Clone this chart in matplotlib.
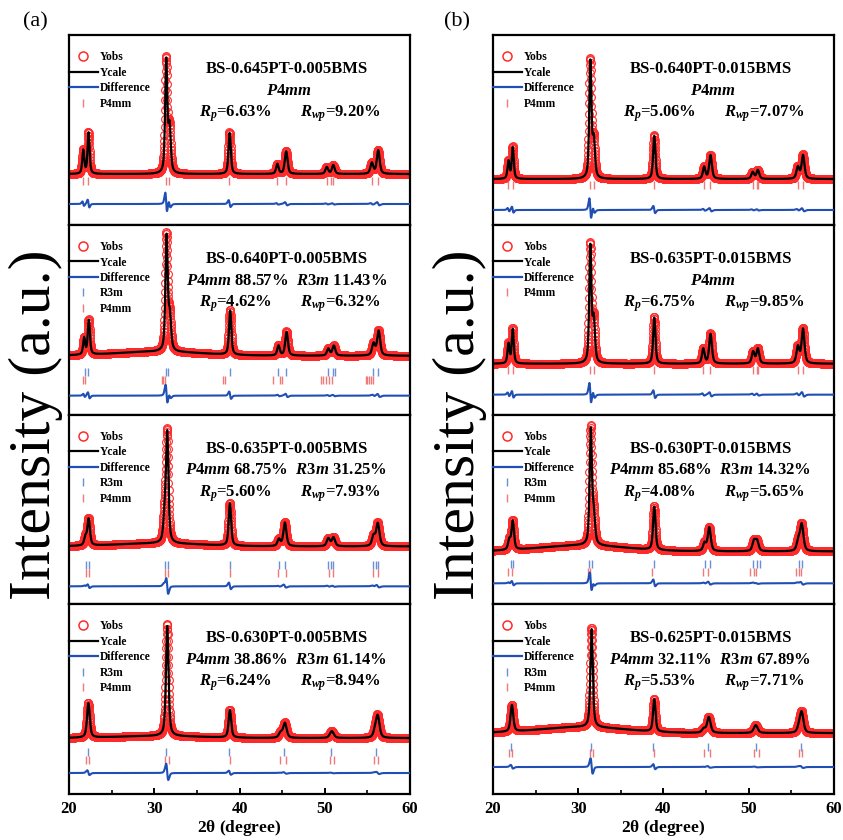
import numpy as np
import matplotlib
matplotlib.use('Agg')
import matplotlib.pyplot as plt
from matplotlib.lines import Line2D

plt.rcParams['font.family'] = ['Liberation Serif', 'DejaVu Serif']
plt.rcParams['mathtext.fontset'] = 'custom'
plt.rcParams['mathtext.rm'] = 'Liberation Serif:bold'
plt.rcParams['mathtext.it'] = 'Liberation Serif:bold:italic'
plt.rcParams['mathtext.bf'] = 'Liberation Serif:bold'

# ---------------- data ----------------
two_theta = np.arange(20.0, 60.0001, 0.02)

# column (a)
a1_name = "BS-0.645PT-0.005BMS"; a1_phase = None; a1_rp = "6.63"; a1_rwp = "9.20"
a1_bg = 51; a1_hump = 0
a1_pos = [21.65, 22.27, 31.38, 31.77, 38.82, 44.42, 45.45, 50.22, 50.98, 55.50, 56.25]
a1_h   = [24, 42, 114, 46, 42, 10, 23, 7, 9, 11, 24]
a1_w   = [0.28, 0.28, 0.30, 0.34, 0.32, 0.35, 0.38, 0.38, 0.38, 0.40, 0.40]
a1_r3m = []
a1_p4mm = [21.65, 22.27, 31.38, 31.77, 38.82, 44.42, 45.45, 50.22, 50.75, 50.98, 55.50, 56.25]

a2_name = "BS-0.640PT-0.005BMS"; a2_phase = ("88.57", "11.43"); a2_rp = "4.62"; a2_rwp = "6.32"
a2_bg = 59; a2_hump = 4
a2_pos = [21.75, 22.30, 31.42, 31.80, 38.88, 44.55, 45.50, 50.40, 51.05, 55.70, 56.30]
a2_h   = [17, 35, 116, 34, 45, 10, 24, 7, 10, 12, 25]
a2_w   = [0.28, 0.30, 0.32, 0.36, 0.32, 0.35, 0.38, 0.38, 0.40, 0.42, 0.42]
a2_r3m = [21.90, 22.26, 31.38, 31.65, 38.90, 44.55, 45.45, 50.40, 51.00, 51.20, 55.70, 56.25]
a2_p4mm = [21.60, 21.90, 30.90, 31.00, 31.20, 38.10, 38.30, 43.90, 44.75, 44.95,
           49.50, 49.80, 50.20, 50.50, 50.80, 54.80, 55.00, 55.20, 55.40, 55.60]

a3_name = "BS-0.635PT-0.005BMS"; a3_phase = ("68.75", "31.25"); a3_rp = "5.60"; a3_rwp = "7.93"
a3_bg = 58; a3_hump = 3
a3_pos = [21.90, 22.28, 31.20, 31.50, 38.85, 44.60, 45.30, 50.40, 51.00, 55.70, 56.20]
a3_h   = [8, 27, 25, 110, 43, 7, 24, 8, 9, 10, 23]
a3_w   = [0.34, 0.36, 0.36, 0.34, 0.34, 0.40, 0.42, 0.44, 0.44, 0.44, 0.46]
a3_r3m = [21.95, 22.30, 31.25, 31.55, 38.85, 44.60, 45.30, 50.35, 50.70, 51.00, 55.65, 55.95, 56.30]
a3_p4mm = [22.00, 22.30, 31.20, 31.60, 38.90, 44.50, 45.40, 50.50, 51.00, 55.70, 56.30]

a4_name = "BS-0.630PT-0.005BMS"; a4_phase = ("38.86", "61.14"); a4_rp = "6.24"; a4_rwp = "8.94"
a4_bg = 56; a4_hump = 2
a4_pos = [22.25, 31.50, 38.85, 44.80, 45.30, 50.80, 55.90, 56.20]
a4_h   = [35, 112, 28, 5, 15, 7, 7, 21]
a4_w   = [0.38, 0.36, 0.36, 0.48, 0.48, 0.54, 0.48, 0.48]
a4_r3m = [22.20, 31.40, 38.80, 45.20, 50.70, 56.00]
a4_p4mm = [22.00, 22.30, 31.30, 31.70, 38.90, 44.80, 45.40, 50.60, 51.10, 55.80, 56.30]

# column (b)
b1_name = "BS-0.640PT-0.015BMS"; b1_phase = None; b1_rp = "5.06"; b1_rwp = "7.07"
b1_bg = 46; b1_hump = 0
b1_pos = [21.80, 22.30, 31.40, 31.80, 38.90, 44.75, 45.50, 50.45, 51.05, 55.75, 56.35]
b1_h   = [18, 32, 118, 38, 44, 12, 24, 7, 9, 12, 24]
b1_w   = [0.28, 0.28, 0.30, 0.34, 0.32, 0.35, 0.38, 0.38, 0.38, 0.40, 0.40]
b1_r3m = []
b1_p4mm = [21.80, 22.30, 31.40, 31.80, 38.90, 44.75, 45.50, 50.45, 50.95, 51.10, 55.75, 56.35]

b2_name = "BS-0.635PT-0.015BMS"; b2_phase = None; b2_rp = "6.75"; b2_rwp = "9.85"
b2_bg = 51; b2_hump = 0
b2_pos = [21.80, 22.30, 31.40, 31.80, 38.90, 44.65, 45.50, 50.50, 51.05, 55.75, 56.35]
b2_h   = [20, 35, 118, 43, 47, 15, 30, 12, 15, 17, 35]
b2_w   = [0.28, 0.28, 0.30, 0.34, 0.32, 0.35, 0.38, 0.38, 0.38, 0.40, 0.40]
b2_r3m = []
b2_p4mm = [21.80, 22.30, 31.40, 31.80, 38.90, 44.65, 45.50, 50.50, 50.95, 51.10, 55.75, 56.35]

b3_name = "BS-0.630PT-0.015BMS"; b3_phase = ("85.68", "14.32"); b3_rp = "4.08"; b3_rwp = "5.65"
b3_bg = 53; b3_hump = 6
b3_pos = [21.90, 22.30, 31.45, 31.80, 38.90, 44.80, 45.35, 50.60, 50.95, 55.80, 56.20]
b3_h   = [10, 29, 116, 29, 44, 8, 24, 10, 10, 10, 27]
b3_w   = [0.34, 0.34, 0.32, 0.36, 0.34, 0.40, 0.42, 0.44, 0.44, 0.44, 0.46]
b3_r3m = [22.10, 22.40, 31.30, 31.60, 38.90, 44.90, 45.50, 50.50, 51.00, 51.30, 55.90, 56.30]
b3_p4mm = [21.80, 22.20, 31.20, 31.40, 38.70, 44.60, 45.20, 50.20, 50.60, 50.80, 55.60, 55.90, 56.10]

b4_name = "BS-0.625PT-0.015BMS"; b4_phase = ("32.11", "67.89"); b4_rp = "5.53"; b4_rwp = "7.71"
b4_bg = 61; b4_hump = 6
b4_pos = [22.20, 31.55, 38.90, 44.70, 45.30, 50.80, 55.90, 56.20]
b4_h   = [27, 100, 33, 4, 16, 8, 6, 20]
b4_w   = [0.38, 0.34, 0.34, 0.48, 0.48, 0.54, 0.48, 0.48]
b4_r3m = [22.10, 31.50, 38.80, 45.20, 50.80, 56.10]
b4_p4mm = [21.90, 22.20, 31.40, 31.70, 38.90, 44.70, 45.50, 50.60, 51.20, 55.90, 56.30]

calc_ratio = 0.985
calc_shift = 0.02

x_ticks = [20, 30, 40, 50, 60]

# ---------------- styles / layout ----------------
RED = '#ff2b2b'
BLUE = '#1f4fb5'
R3M_C = '#6b8fd6'
P4MM_C = '#f07a7a'

panels_a = [
    (a1_name, a1_phase, a1_rp, a1_rwp, a1_bg, a1_hump, a1_pos, a1_h, a1_w, a1_r3m, a1_p4mm),
    (a2_name, a2_phase, a2_rp, a2_rwp, a2_bg, a2_hump, a2_pos, a2_h, a2_w, a2_r3m, a2_p4mm),
    (a3_name, a3_phase, a3_rp, a3_rwp, a3_bg, a3_hump, a3_pos, a3_h, a3_w, a3_r3m, a3_p4mm),
    (a4_name, a4_phase, a4_rp, a4_rwp, a4_bg, a4_hump, a4_pos, a4_h, a4_w, a4_r3m, a4_p4mm),
]
panels_b = [
    (b1_name, b1_phase, b1_rp, b1_rwp, b1_bg, b1_hump, b1_pos, b1_h, b1_w, b1_r3m, b1_p4mm),
    (b2_name, b2_phase, b2_rp, b2_rwp, b2_bg, b2_hump, b2_pos, b2_h, b2_w, b2_r3m, b2_p4mm),
    (b3_name, b3_phase, b3_rp, b3_rwp, b3_bg, b3_hump, b3_pos, b3_h, b3_w, b3_r3m, b3_p4mm),
    (b4_name, b4_phase, b4_rp, b4_rwp, b4_bg, b4_hump, b4_pos, b4_h, b4_w, b4_r3m, b4_p4mm),
]
# rows (from panel bottom) for reflection ticks and difference curve
rows_a = [(None, 44, 21), (43, 35, 19), (39, 31, 18), (42, 34, 21)]
rows_b = [(None, 40, 15), (None, 45, 20), (40, 32, 21), (47, 41, 27)]


def pv(x, x0, h, w, eta=0.55):
    d = (x - x0) / w
    return h * (eta / (1 + 4 * d * d) + (1 - eta) * np.exp(-4 * np.log(2) * d * d))


fig = plt.figure(figsize=(8.43, 8.40), dpi=100)
left_x = [0.0819, 0.5848]
ax_w = 0.4045
bottom = 0.0548
ax_h = (0.958 - 0.0548) / 4

for col, (panels, rows) in enumerate([(panels_a, rows_a), (panels_b, rows_b)]):
    for i, (p, r) in enumerate(zip(panels, rows)):
        name, phase, rp, rwp, bg, hump, pos, hh, ww, r3m, p4mm = p
        r_row, p_row, d_row = r
        ax = fig.add_axes([left_x[col], bottom + (3 - i) * ax_h, ax_w, ax_h])
        x = two_theta
        yobs = bg + pv(x, 30.5, hump, 12.0, eta=0.0)
        ycal = bg + pv(x, 30.5, hump, 12.0, eta=0.0)
        for x0, h0, w0 in zip(pos, hh, ww):
            yobs = yobs + pv(x, x0, h0, w0)
            ycal = ycal + pv(x, x0 + calc_shift, h0 * calc_ratio, w0)
        ax.plot(x, yobs, 'o', mfc='none', mec=RED, ms=5.6, mew=0.8, zorder=2)
        ax.plot(x, ycal, '-', color='k', lw=1.6, zorder=3)
        ax.plot(x, yobs - ycal + d_row, '-', color=BLUE, lw=1.5, zorder=3)
        if r3m:
            ax.plot(r3m, [r_row] * len(r3m), '|', color=R3M_C, ms=5.5, mew=1.0)
        ax.plot(p4mm, [p_row] * len(p4mm), '|', color=P4MM_C, ms=5.5, mew=1.0)

        ax.set_xlim(20, 60)
        ax.set_ylim(0, 190)
        ax.set_yticks([])
        for s in ax.spines.values():
            s.set_linewidth(1.6)

        handles = [Line2D([], [], marker='o', ls='none', mfc='none', mec=RED, ms=6.5, mew=1.1),
                   Line2D([], [], color='k', lw=1.6),
                   Line2D([], [], color=BLUE, lw=1.6)]
        labels = ['Yobs', 'Ycale', 'Difference']
        if r3m:
            handles.append(Line2D([], [], marker='|', ls='none', color=R3M_C, ms=5.5, mew=1.0))
            labels.append('R3m')
        handles.append(Line2D([], [], marker='|', ls='none', color=P4MM_C, ms=5.5, mew=1.0))
        labels.append('P4mm')
        ax.legend(handles, labels, loc='upper left', bbox_to_anchor=(0.0, 0.915),
                  frameon=False, prop={'weight': 'bold', 'size': 8.3},
                  handlelength=2.5, handletextpad=0.2, labelspacing=0.3,
                  borderpad=0, borderaxespad=0)

        ax.text(0.64, 0.80, name, transform=ax.transAxes, ha='center', va='baseline',
                fontsize=12, fontweight='bold')
        if phase is None:
            ax.text(0.645, 0.685, r"$\mathit{P4mm}$", transform=ax.transAxes,
                    ha='center', va='baseline', fontsize=12, fontweight='bold')
        else:
            ax.text(0.637, 0.685,
                    r"$\mathit{P4mm}$ " + phase[0] + "%  " + r"$\mathit{R3m}$ " + phase[1] + "%",
                    transform=ax.transAxes, ha='center', va='baseline', fontsize=12,
                    fontweight='bold')
        ax.text(0.38, 0.57, r"$\mathit{R}_{\mathit{p}}$=" + rp + "%", transform=ax.transAxes,
                ha='left', va='baseline', fontsize=12, fontweight='bold')
        ax.text(0.677, 0.57, r"$\mathit{R}_{\mathit{wp}}$=" + rwp + "%", transform=ax.transAxes,
                ha='left', va='baseline', fontsize=12, fontweight='bold')

        if i == 3:
            ax.set_xticks(x_ticks)
            ax.set_xticks([25, 35, 45, 55], minor=True)
            ax.tick_params(axis='x', which='both', direction='in', top=False)
            ax.tick_params(axis='x', which='major', length=4, width=1.4, pad=5)
            ax.tick_params(axis='x', which='minor', length=3, width=1.2)
            for t in ax.get_xticklabels():
                t.set_fontweight('bold')
                t.set_fontsize(12)
            ax.set_xlabel(r"2$\mathrm{\theta}$ (degree)", fontsize=12.5, fontweight='bold',
                          labelpad=1)
        else:
            ax.set_xticks([])

fig.text(0.042, 0.494, "Intensity (a.u.)", rotation=90, fontsize=43, ha='center', va='center')
fig.text(0.545, 0.494, "Intensity (a.u.)", rotation=90, fontsize=43, ha='center', va='center')
fig.text(0.0415, 0.974, "(a)", fontsize=16, ha='center', va='center')
fig.text(0.542, 0.974, "(b)", fontsize=16, ha='center', va='center')

fig.savefig('out.png', dpi=100)
